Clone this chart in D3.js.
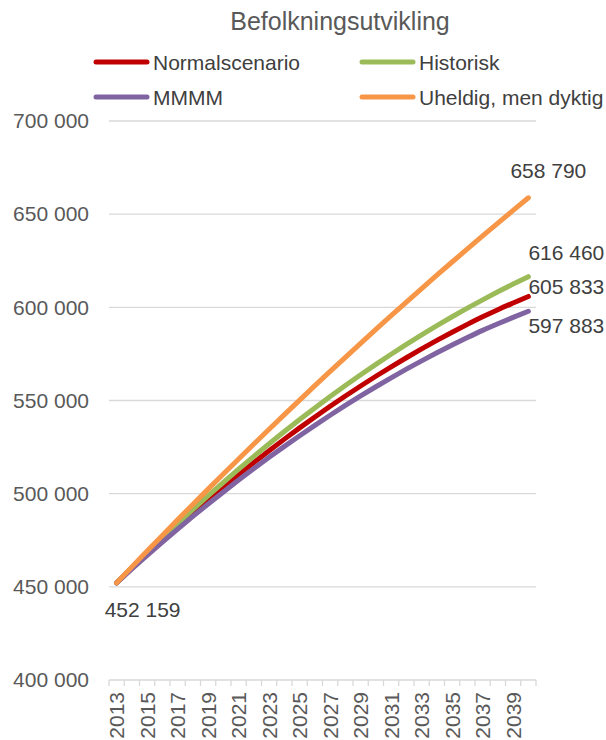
<!DOCTYPE html>
<html>
<head>
<meta charset="utf-8">
<script src="https://cdn.jsdelivr.net/npm/d3@7"></script>
<style>
  html, body { margin: 0; padding: 0; background: #fff; }
  svg { display: block; font-family: "Liberation Sans", Arial, sans-serif; }
</style>
</head>
<body>
<svg id="chart" width="606" height="740"></svg>
<script>
const years = [2013,2014,2015,2016,2017,2018,2019,2020,2021,2022,2023,2024,2025,2026,2027,2028,2029,2030,2031,2032,2033,2034,2035,2036,2037,2038,2039,2040];

const normalscenario = [452159,459986,467650,475150,482487,489661,496672,503519,510202,516723,523080,529274,535306,541173,546876,552418,557795,563009,568059,572947,577672,582232,586630,590864,594936,598744,602330,605833];
const historisk = [452159,460351,468381,476249,483955,491499,498881,506100,513157,520053,526786,533357,539767,546014,552099,558022,563783,569382,574819,580095,585204,590154,594943,599568,604032,608335,612474,616460];
const mmmm = [452159,459594,466874,473999,480967,487779,494436,500937,507284,513473,519507,525386,531109,536677,542087,547343,552443,557387,562176,566809,571286,575608,579773,583784,587638,591200,594600,597883];
const uheldig = [452159,460712,469195,477610,485955,494231,502438,510575,518644,526643,534573,542434,550225,557948,565601,573185,580700,588145,595522,602829,610067,617236,624335,631366,638327,645219,652041,658790];

const seriesNames = ["Normalscenario", "Historisk", "MMMM", "Uheldig, men dyktig"];
const seriesColors = ["#C00000", "#9BBB59", "#8064A2", "#F79646"];
const yTicks = [400000, 450000, 500000, 550000, 600000, 650000, 700000];
const xTickLabels = [2013,2015,2017,2019,2021,2023,2025,2027,2029,2031,2033,2035,2037,2039];
const title = "Befolkningsutvikling";

const seriesData = [normalscenario, historisk, mmmm, uheldig];

const svg = d3.select("#chart");
svg.append("rect").attr("width", 606).attr("height", 740).attr("fill", "#fff");

const x = d3.scaleBand().domain(years).range([109, 536]);
const y = d3.scaleLinear().domain([400000, 700000]).range([680, 121]);
const cx = d => x(d) + x.bandwidth() / 2;

const fmt = v => d3.format(",")(v).replace(/,/g, " ");

// title
svg.append("text").attr("x", 340).attr("y", 30)
  .attr("text-anchor", "middle").attr("font-size", 25).attr("fill", "#595959")
  .text(title);

// legend
const legendPos = [[94, 62], [360, 62], [94, 97], [360, 97]];
seriesNames.forEach((name, i) => {
  const [lx, ly] = legendPos[i];
  svg.append("line").attr("x1", lx + 2).attr("x2", lx + 53).attr("y1", ly).attr("y2", ly)
    .attr("stroke", seriesColors[i]).attr("stroke-width", 5).attr("stroke-linecap", "round");
  svg.append("text").attr("x", lx + 59).attr("y", ly + 7.5)
    .attr("font-size", 21).attr("fill", "#404040").text(name);
});

// gridlines
svg.append("g").selectAll("line").data(yTicks.filter(t => t > 400000)).join("line")
  .attr("x1", 109).attr("x2", 536)
  .attr("y1", d => y(d)).attr("y2", d => y(d))
  .attr("stroke", "#d9d9d9").attr("stroke-width", 1.3);

// y axis labels
const yAxis = d3.axisLeft(y).tickValues(yTicks).tickFormat(fmt).tickSize(0).tickPadding(20);
const gy = svg.append("g").attr("transform", "translate(109,0)").call(yAxis);
gy.select(".domain").remove();
gy.selectAll("text").attr("font-size", 21).attr("fill", "#595959")
  .attr("font-family", "Liberation Sans, Arial, sans-serif");

// x axis
const xAxis = d3.axisBottom(x).tickValues(xTickLabels).tickSize(0).tickPadding(0);
const gx = svg.append("g").attr("transform", "translate(0,680)").call(xAxis);
gx.select(".domain").attr("stroke", "#d9d9d9").attr("stroke-width", 1.3)
  .attr("d", "M109,0H536");
gx.selectAll("text")
  .attr("font-size", 21).attr("fill", "#595959")
  .attr("font-family", "Liberation Sans, Arial, sans-serif")
  .attr("text-anchor", "end")
  .attr("transform", "rotate(-90)")
  .attr("x", -12).attr("y", 0).attr("dy", "0.36em");
gx.selectAll(".tick").attr("transform", d => `translate(${cx(d)},0)`);
// band boundary tick marks
const bounds = years.map(d => x(d)).concat([x(2040) + x.bandwidth()]);
svg.append("g").selectAll("line").data(bounds).join("line")
  .attr("x1", d => d).attr("x2", d => d).attr("y1", 680).attr("y2", 686)
  .attr("stroke", "#d9d9d9").attr("stroke-width", 1.3);

// lines
const line = d3.line().x((d, i) => cx(years[i])).y(d => y(d)).curve(d3.curveMonotoneX);
seriesData.forEach((s, i) => {
  svg.append("path").datum(s).attr("d", line)
    .attr("fill", "none").attr("stroke", seriesColors[i]).attr("stroke-width", 5)
    .attr("stroke-linecap", "round").attr("stroke-linejoin", "round");
});

// data labels
const last = years.length - 1;
const endX = cx(years[last]);
const endLabels = [
  { v: normalscenario[last], dx: 0, dy: -9.5 },
  { v: historisk[last], dx: 0, dy: -24.5 },
  { v: mmmm[last], dx: 0, dy: 14 },
  { v: uheldig[last], dx: -18, dy: -27 }
];
endLabels.forEach(l => {
  svg.append("text").attr("x", endX + l.dx).attr("y", y(l.v) + l.dy).attr("dy", "0.35em")
    .attr("font-size", 21).attr("fill", "#404040").text(fmt(l.v));
});
svg.append("text").attr("x", cx(years[0]) - 12).attr("y", y(normalscenario[0]) + 27).attr("dy", "0.35em")
  .attr("font-size", 21).attr("fill", "#404040").text(fmt(normalscenario[0]));
</script>
</body>
</html>
